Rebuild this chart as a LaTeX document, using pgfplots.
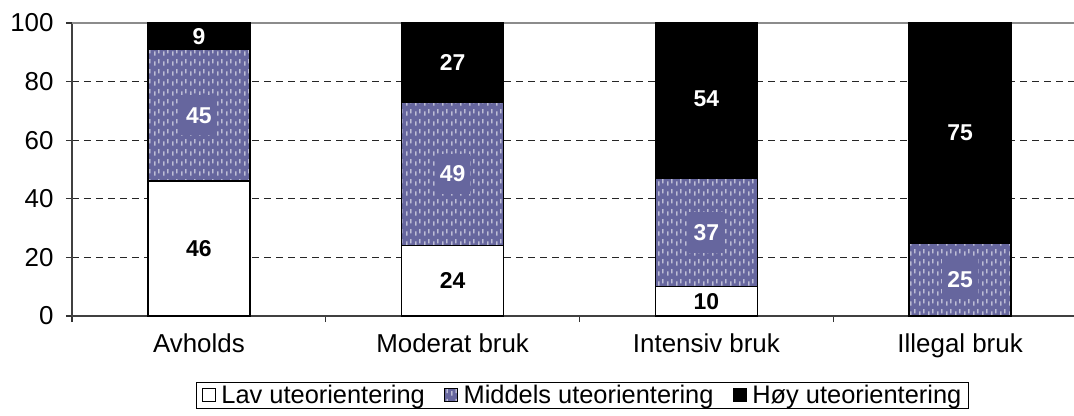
\documentclass[border=0pt]{standalone}
\usepackage{pgfplots}
\pgfplotsset{compat=1.18}
\usepackage{fontspec}
\setmainfont{Liberation Sans}
\usetikzlibrary{patterns}

\definecolor{midfill}{HTML}{66669E}

% short white vertical dashes, staggered
\pgfdeclarepatternformonly{vdash}{\pgfpoint{0bp}{0bp}}{\pgfpoint{9bp}{10bp}}{\pgfpoint{9bp}{10bp}}{
  \pgfsetlinewidth{1.2bp}
  \pgfpathmoveto{\pgfpoint{2bp}{0.5bp}}\pgfpathlineto{\pgfpoint{2bp}{5bp}}
  \pgfpathmoveto{\pgfpoint{6.5bp}{3bp}}\pgfpathlineto{\pgfpoint{6.5bp}{7.5bp}}
  \pgfusepath{stroke}
}

\pgfplotsset{
  barlabel/.style={
    nodes near coords={\ifdim\rawy pt>0.5pt\pgfmathprintnumber{\rawy}\fi},
    visualization depends on={rawy \as \rawy},
    every node near coord/.append style={
      anchor=center,
      font=\fontsize{23}{25}\selectfont\bfseries},
  },
}

\begin{document}
\begin{tikzpicture}
\begin{axis}[
    ybar stacked,
    scale only axis,
    width=1015bp, height=293bp,
    bar width=102bp,
    xmin=-0.5, xmax=3.5,
    ymin=0, ymax=100,
    clip=false,
    axis x line*=bottom, axis y line*=left,
    axis line style={black!75, line width=1.5bp},
    xtick={-0.5,0.5,1.5,2.5,3.5},
    x tick label as interval,
    xticklabels={Avholds, Moderat bruk, Intensiv bruk, Illegal bruk},
    ytick={0,20,40,60,80},
    extra y ticks={100},
    extra y tick style={major grid style={solid, black!45, line width=2bp}},
    ymajorgrids,
    major grid style={black!85, line width=0.8bp, dash pattern=on 7bp off 5bp},
    tick align=outside,
    major tick length=6bp,
    tick style={black!80, line width=1.2bp},
    /pgf/number format/assume math mode=true,
    tick label style={font=\fontsize{26}{28}\selectfont},
    yticklabel style={xshift=-9bp},
    xticklabel style={yshift=-8bp},
    legend columns=3,
    legend style={at={(axis description cs:0.5,0)}, anchor=north,
      yshift=-66bp, xshift=3bp,
      draw=black, line width=0.8bp,
      font=\fontsize{25.5}{28}\selectfont,
      inner xsep=5bp, inner ysep=1bp,
      /tikz/every odd column/.append style={column sep=4bp},
      /tikz/every even column/.append style={column sep=17bp}},
    legend image code/.code={
      \draw[#1, draw=black, line width=0.8bp] (0bp,-6.5bp) rectangle (13bp,6.5bp);},
  ]
  \coordinate (O) at (rel axis cs:0,0);

  \addplot[fill=white, draw=black, line width=1.5bp, barlabel,
    every node near coord/.append style={text=black}]
    coordinates {(0,46) (1,24) (2,10) (3,0)};

  \addplot[fill=midfill, draw=black, line width=1.5bp,
    postaction={pattern=vdash, pattern color=white!88!midfill},
    barlabel,
    every node near coord/.append style={text=white, fill=midfill,
      inner xsep=5bp, inner ysep=12bp}]
    coordinates {(0,45) (1,49) (2,37) (3,25)};

  \addplot[fill=black, draw=black, line width=1.5bp, barlabel,
    every node near coord/.append style={text=white}]
    coordinates {(0,9) (1,27) (2,54) (3,75)};

  \legend{Lav uteorientering, Middels uteorientering, Høy uteorientering\hspace{10bp}}
\end{axis}
% hide the part of the 101 stack that pokes out above the 100 line
\fill[white] (O) ++(20bp,294bp) rectangle ++(1060bp,8bp);
\pgfresetboundingbox
\path[use as bounding box] (O) ++(-72bp,-100bp) rectangle ++(1074bp,416bp);
\end{tikzpicture}
\end{document}
